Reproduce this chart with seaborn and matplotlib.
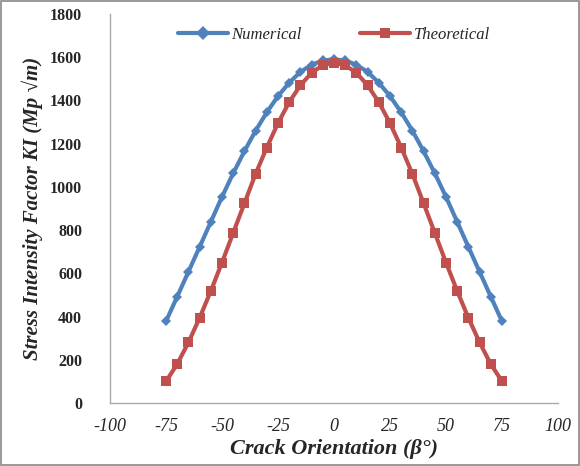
import numpy as np
import pandas as pd
import matplotlib
matplotlib.use("Agg")
import matplotlib.pyplot as plt
import seaborn as sns

angles = [-75, -70, -65, -60, -55, -50, -45, -40, -35, -30, -25, -20, -15, -10, -5, 0,
          5, 10, 15, 20, 25, 30, 35, 40, 45, 50, 55, 60, 65, 70, 75]
numerical = [378, 492, 607, 722, 838, 954, 1063, 1165, 1260, 1345, 1420, 1482, 1532, 1565, 1585, 1590,
             1585, 1565, 1532, 1482, 1420, 1345, 1260, 1165, 1063, 954, 838, 722, 607, 492, 378]
theoretical = [100, 180, 280, 394, 518, 650, 787, 924, 1060, 1182, 1295, 1392, 1470, 1528, 1563, 1575,
               1563, 1528, 1470, 1392, 1295, 1182, 1060, 924, 787, 650, 518, 394, 280, 180, 100]
series_names = ["Numerical", "Theoretical"]
x_ticks = [-100, -75, -50, -25, 0, 25, 50, 75, 100]
y_ticks = [0, 200, 400, 600, 800, 1000, 1200, 1400, 1600, 1800]

df = pd.DataFrame({
    "angle": angles * 2,
    "K": numerical + theoretical,
    "series": [series_names[0]] * len(angles) + [series_names[1]] * len(angles),
})

sns.set_style("white")
plt.rcParams["font.family"] = ["Liberation Serif", "DejaVu Serif"]

fig = plt.figure(figsize=(5.8, 4.66), dpi=100)
ax = fig.add_axes([110 / 580, 1 - 403 / 466, 448 / 580, 389 / 466])

palette = {"Numerical": "#4F81BD", "Theoretical": "#C0504D"}
sns.lineplot(data=df, x="angle", y="K", hue="series", style="series",
             markers={"Numerical": "D", "Theoretical": "s"}, dashes=False,
             palette=palette, linewidth=3, markersize=7, markeredgewidth=0,
             sort=False, ax=ax)
ax.lines[0].set_markersize(5.5)

ax.set_xlim(-100, 100)
ax.set_ylim(0, 1800)
ax.set_xticks(x_ticks)
ax.set_yticks(y_ticks)
ax.set_xticklabels([str(t) for t in x_ticks], fontstyle="italic", fontsize=13)
ax.set_yticklabels([str(t) for t in y_ticks], fontweight="bold", fontsize=11.5)
ax.tick_params(axis="x", length=0, pad=11)
ax.tick_params(axis="y", length=0, pad=20)

for s in ["top", "right"]:
    ax.spines[s].set_visible(False)
for s in ["left", "bottom"]:
    ax.spines[s].set_color("#aaaaaa")
    ax.spines[s].set_linewidth(1)

ax.set_xlabel("Crack Orientation (β°)", fontsize=16, fontweight="bold", fontstyle="italic", labelpad=3)
ax.set_ylabel("Stress Intensity Factor KI (Mp √m)", fontsize=15, fontweight="bold",
              fontstyle="italic", labelpad=5)

handles, labels = ax.get_legend_handles_labels()
leg = ax.legend(handles, labels, loc="upper center", bbox_to_anchor=(0.5, 1.005), ncol=2,
                frameon=False, prop={"style": "italic", "size": 12}, handlelength=3,
                columnspacing=3.5, handletextpad=0.2)

fig.patches.append(plt.Rectangle((0.002, 0.002), 0.996, 0.996, transform=fig.transFigure,
                                 fill=False, edgecolor="#888888", linewidth=1.2))

fig.savefig("out.png", dpi=100)
